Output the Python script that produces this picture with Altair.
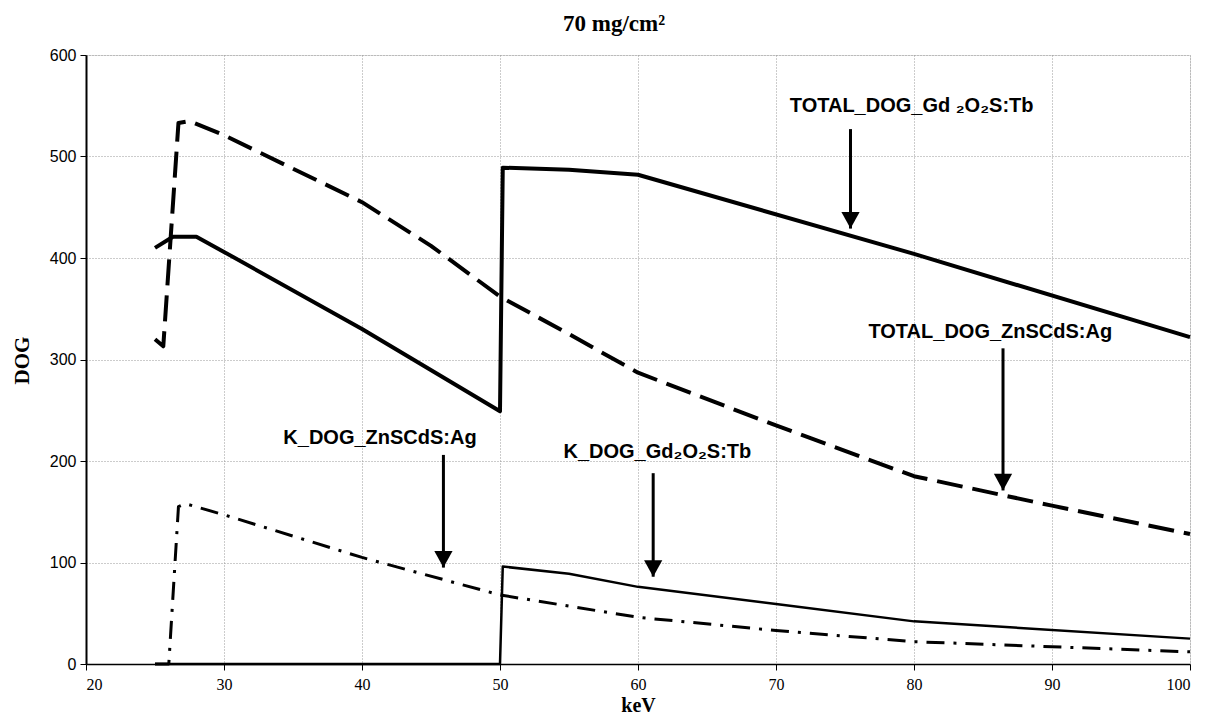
import altair as alt
import pandas as pd

# ---- data ----
kev_total_gd = [25, 26.3, 28, 30, 40, 50, 50.2, 55, 60, 80, 100]
dog_total_gd = [410, 421, 421, 406, 330, 249, 489, 487, 482, 404, 322]

kev_total_zn = [25, 25.6, 26.7, 27.5, 30, 40, 45, 50, 55, 60, 70, 80, 90, 100]
dog_total_zn = [320, 313, 533, 535, 521, 455, 412, 362, 325, 287, 235, 185, 156, 128]

kev_k_zn = [25, 26, 26.7, 27.2, 30, 40, 50, 60, 70, 80, 90, 100]
dog_k_zn = [0, 0, 155, 158, 147, 105, 68, 46, 33, 22, 17, 12]

kev_k_gd = [25, 50, 50.2, 55, 60, 70, 80, 100]
dog_k_gd = [0, 0, 96, 89, 76, 59, 42, 25]

# annotations
ann_labels = ["TOTAL_DOG_Gd \u2082O\u2082S:Tb", "TOTAL_DOG_ZnSCdS:Ag",
              "K_DOG_ZnSCdS:Ag", "K_DOG_Gd\u2082O\u2082S:Tb"]
ann_text_x = [71.0, 76.7, 34.3, 54.6]
ann_text_y = [550, 327, 223, 209]
arrow_x = [75.4, 86.45, 45.9, 61.1]
arrow_y_start = [527, 311, 206, 188]
arrow_y_tip = [429, 171, 95, 86]

x_scale = alt.Scale(domain=[20, 100], nice=False, zero=False)
y_scale = alt.Scale(domain=[0, 600], nice=False)

x_axis = alt.Axis(values=list(range(20, 101, 10)), title="keV", grid=True,
                  gridColor="#999999", gridDash=[1, 2], gridWidth=1,
                  domainColor="#000", domainWidth=1.5, tickColor="#000", tickSize=6,
                  labelFont="Liberation Sans Narrow", labelFontSize=16, labelColor="#000",
                  labelPadding=6,
                  titleFont="Liberation Serif", titleFontSize=20, titleFontWeight="bold",
                  titleColor="#000", titleY=41, titleBaseline="middle")
y_axis = alt.Axis(values=list(range(0, 601, 100)), title="DOG", grid=True,
                  gridColor="#999999", gridDash=[1, 2], gridWidth=1,
                  domainColor="#000", domainWidth=2, tickColor="#000", tickSize=6,
                  labelFont="Liberation Sans", labelFontSize=16, labelColor="#000",
                  labelPadding=4,
                  titleFont="Liberation Serif", titleFontSize=21, titleFontWeight="bold",
                  titleColor="#000", titleX=-64, titleY=305, titleBaseline="middle",
                  titleAngle=270, titleAlign="center")


def line_layer(xs, ys, width, dash=None):
    df = pd.DataFrame({"keV": xs, "DOG": ys, "order": range(len(xs))})
    kw = dict(color="#000", strokeWidth=width, strokeJoin="round")
    if dash:
        kw["strokeDash"] = dash
    return alt.Chart(df).mark_line(**kw).encode(
        x=alt.X("keV:Q", scale=x_scale, axis=x_axis),
        y=alt.Y("DOG:Q", scale=y_scale, axis=y_axis),
        order="order:Q",
    )


l1 = line_layer(kev_total_gd, dog_total_gd, 4)
l2 = line_layer(kev_total_zn, dog_total_zn, 4, [26, 10])
l3 = line_layer(kev_k_zn, dog_k_zn, 3, [18, 9, 3, 9])
l4 = line_layer(kev_k_gd, dog_k_gd, 2.5)

ann = pd.DataFrame({"label": ann_labels, "tx": ann_text_x, "ty": ann_text_y,
                    "ax": arrow_x, "ay0": arrow_y_start, "ay1": arrow_y_tip})

texts = alt.Chart(ann).mark_text(align="left", baseline="middle", font="Liberation Sans",
                                 fontSize=20, fontWeight="bold", color="#000").encode(
    x=alt.X("tx:Q", scale=x_scale), y=alt.Y("ty:Q", scale=y_scale), text="label:N")

shafts = alt.Chart(ann).mark_rule(color="#000", strokeWidth=3).encode(
    x=alt.X("ax:Q", scale=x_scale), y=alt.Y("ay0:Q", scale=y_scale), y2="ay1:Q")

heads = alt.Chart(ann).mark_point(shape="M -0.55 -1 L 0.55 -1 L 0 0 Z", size=1100,
                                  filled=True, color="#000", opacity=1, strokeWidth=0).encode(
    x=alt.X("ax:Q", scale=x_scale), y=alt.Y("ay1:Q", scale=y_scale))

chart = alt.layer(l4, l3, l2, l1, shafts, heads, texts).properties(
    width=1104, height=609,
    title=alt.TitleParams("70 mg/cm\u00b2", font="Liberation Serif", fontSize=23,
                          fontWeight="bold", color="#000", dx=-24, offset=11),
    autosize=alt.AutoSizeParams(type="none"),
    padding={"left": 78, "top": 47, "right": 9, "bottom": 53},
).configure_view(stroke="#000", strokeWidth=1).configure(background="white")

chart.save("out.html", embed_options={"renderer": "svg", "actions": False})
